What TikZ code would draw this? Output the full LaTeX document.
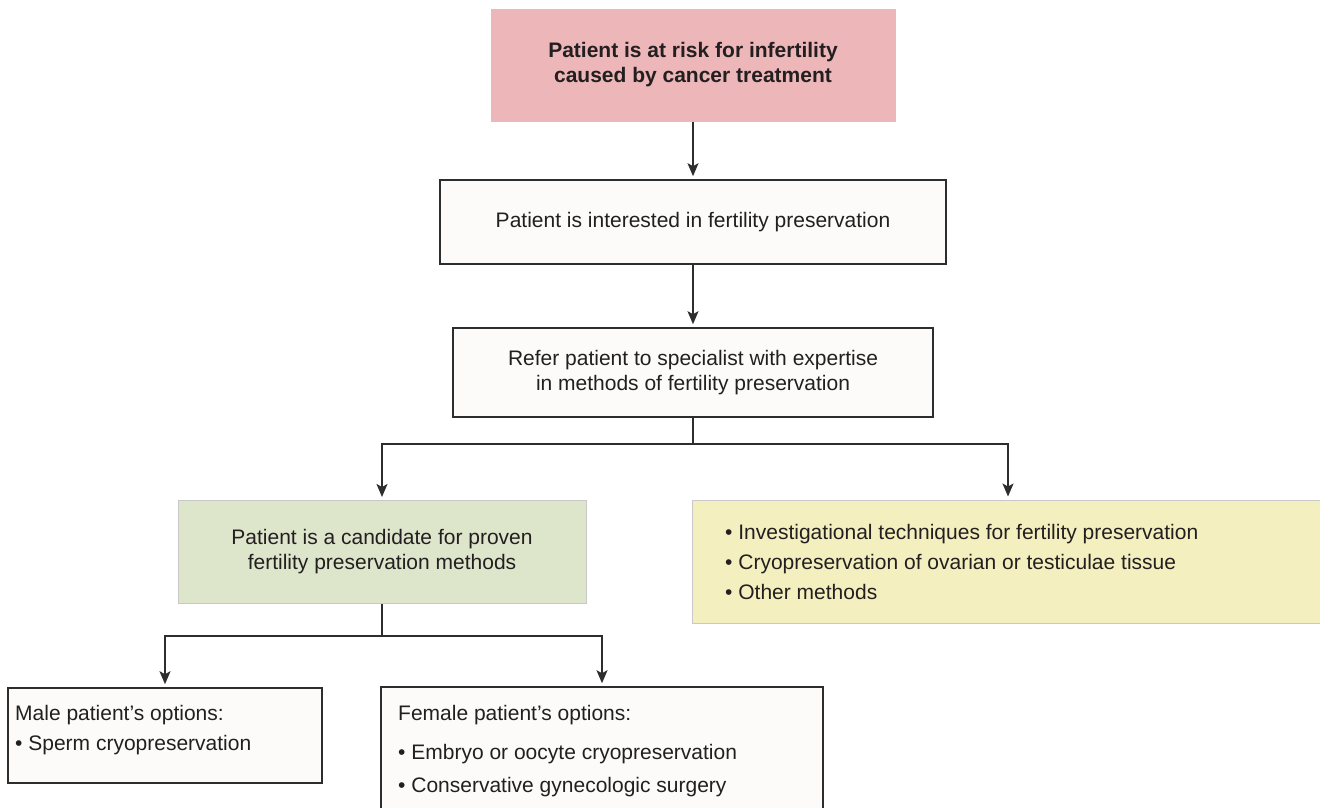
\documentclass[tikz,border=0pt]{standalone}
\usepackage{fontspec}
\setmainfont{Liberation Sans}
\usetikzlibrary{arrows.meta}

\definecolor{pinkfill}{RGB}{237,182,185}
\definecolor{greenfill}{RGB}{221,229,203}
\definecolor{yellowfill}{RGB}{244,239,190}
\definecolor{ink}{RGB}{35,31,32}
\definecolor{edge}{RGB}{45,45,45}
\definecolor{softedge}{RGB}{200,200,200}
\definecolor{paper}{RGB}{252,251,250}

\tikzset{
  basefont/.style={font=\fontsize{21}{25}\selectfont},
  box/.style={draw=edge, line width=1.6pt, fill=paper, inner sep=0pt,
    text=ink, align=center, basefont},
  tinted/.style={draw=softedge, line width=1pt, inner sep=0pt,
    text=ink, align=center, basefont},
  listtext/.style={inner sep=0pt, text=ink, align=left, anchor=north west,
    font=\fontsize{21}{30}\selectfont},
  link/.style={draw=edge, line width=1.6pt, line join=miter},
  arr/.style={link, -{Stealth[length=13pt,width=11pt,inset=3pt]}, shorten >=3pt},
}

\begin{document}
\begin{tikzpicture}[x=1pt,y=-1pt]
  \useasboundingbox (0,0) rectangle (1320,807);
  \clip (0,0) rectangle (1320,807);

  % main column
  \node[tinted, fill=pinkfill, minimum width=404pt, minimum height=112pt,
        font=\bfseries\fontsize{21}{25}\selectfont] (risk) at (693,65)
        {Patient is at risk for infertility\\caused by cancer treatment};
  \node[box, minimum width=506pt, minimum height=84pt] (interest) at (693,222)
        {Patient is interested in fertility preservation};
  \node[box, minimum width=480pt, minimum height=89pt] (refer) at (693,372.5)
        {Refer patient to specialist with expertise\\in methods of fertility preservation};

  % second level
  \node[tinted, fill=greenfill, minimum width=408pt, minimum height=103pt] (proven) at (382,552)
        {Patient is a candidate for proven\\fertility preservation methods};
  \node[tinted, fill=yellowfill, minimum width=632pt, minimum height=123pt] (invest) at (1008,561.5) {};
  \node[listtext] (investtext) at (725,524)
        {• Investigational techniques for fertility preservation\\
         • Cryopreservation of ovarian or testiculae tissue\\
         • Other methods};

  % third level
  \node[box, minimum width=314pt, minimum height=95pt] (male) at (165,735.5) {};
  \node[listtext] (maletext) at (15,705)
        {Male patient’s options:\\• Sperm cryopreservation};
  \node[box, minimum width=442pt, minimum height=160pt] (female) at (602,767) {};
  \node[listtext, font=\fontsize{21}{33}\selectfont] (femaletext) at (398,705)
        {Female patient’s options:\\[6pt]• Embryo or oocyte cryopreservation\\• Conservative gynecologic surgery};

  % connectors
  \draw[arr] (risk.south) -- (interest.north);
  \draw[arr] (interest.south) -- (refer.north);

  \coordinate (split) at (693,444);
  \draw[link] (refer.south) -- (split);
  \draw[arr] (split) -| (proven.north);
  \draw[arr] (split) -| (invest.north);

  \coordinate (split2) at (382,636);
  \draw[link] (proven.south) -- (split2);
  \draw[arr] (split2) -| (male.north);
  \draw[arr] (split2) -| (female.north);
\end{tikzpicture}
\end{document}
